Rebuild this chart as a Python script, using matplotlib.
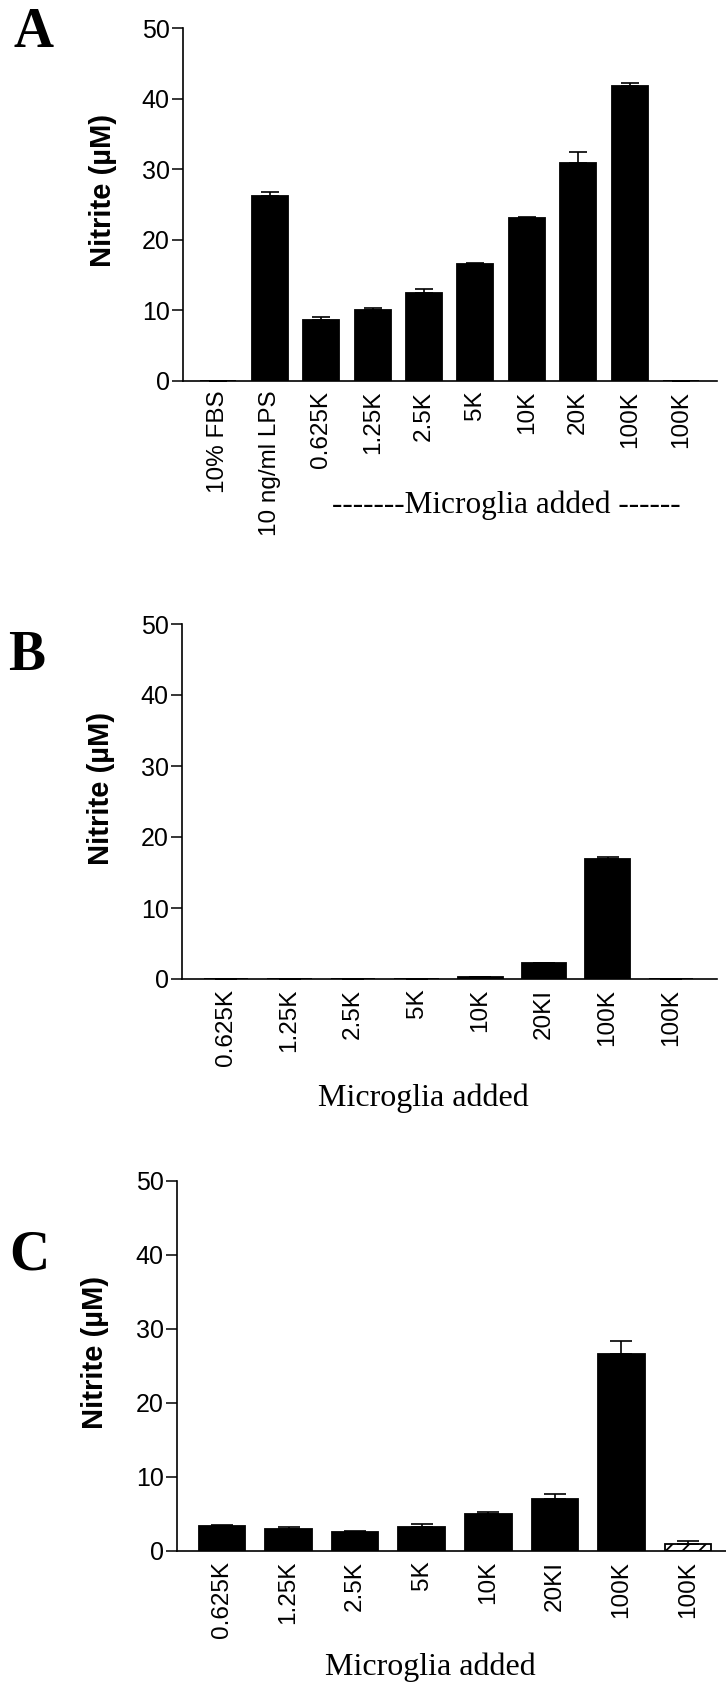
import matplotlib
matplotlib.use("Agg")
from matplotlib import pyplot as plt

# data
labels_a = ["10% FBS", "10 ng/ml LPS", "0.625K", "1.25K", "2.5K", "5K",
            "10K", "20K", "100K", "100K"]
nitrite_a = [0.0, 26.2, 8.65, 10.07, 12.48, 16.54, 23.06, 30.86, 41.73, 0.0]
sem_a = [0.0, 0.55, 0.47, 0.33, 0.56, 0.24, 0.24, 1.51, 0.43, 0.0]

labels_b = ["0.625K", "1.25K", "2.5K", "5K", "10K", "20KI", "100K", "100K"]
nitrite_b = [0.0, 0.0, 0.0, 0.0, 0.23, 2.2, 16.9, 0.0]
sem_b = [0.0, 0.0, 0.0, 0.0, 0.0, 0.1, 0.28, 0.0]

labels_c = ["0.625K", "1.25K", "2.5K", "5K", "10K", "20KI", "100K", "100K"]
nitrite_c = [3.42, 3.02, 2.61, 3.24, 4.95, 7.07, 26.58, 0.9]
sem_c = [0.08, 0.27, 0.05, 0.41, 0.32, 0.59, 1.8, 0.45]
hatched_c = [False, False, False, False, False, False, False, True]

yticks = [0, 10, 20, 30, 40, 50]

W, H = 726, 1684
sans = ["Liberation Sans", "DejaVu Sans"]
serif = ["Liberation Serif", "DejaVu Serif"]

plt.rcParams["hatch.linewidth"] = 1.3
fig = plt.figure(figsize=(W / 100, H / 100), dpi=100)


def panel(rect, labels, values, errs, xlim, capsize, hatched=None):
    left, right, top, bottom = rect
    ax = fig.add_axes([left / W, 1 - bottom / H, (right - left) / W, (bottom - top) / H])
    x = list(range(len(labels)))
    if hatched is None:
        hatched = [False] * len(labels)
    fc = ["white" if h else "black" for h in hatched]
    bars = ax.bar(x, values, width=0.7, color=fc, edgecolor="black", linewidth=1.3, zorder=2)
    for b, h in zip(bars, hatched):
        if h:
            b.set_hatch("//")
    ax.errorbar(x, values, yerr=[[0] * len(errs), errs], fmt="none", ecolor="black",
                elinewidth=1.2, capsize=capsize, capthick=1.2, zorder=3)
    ax.set_ylim(0, 50)
    ax.set_xlim(*xlim)
    ax.set_yticks(yticks)
    ax.set_xticks(x)
    ax.set_xticklabels(labels, rotation=90, family=sans, fontsize=17.5)
    for t in ax.get_yticklabels():
        t.set_family(sans)
        t.set_fontsize(18)
    ax.tick_params(axis="y", length=8, width=1.1, pad=1.5)
    ax.tick_params(axis="x", length=0, pad=7)
    for s in ("top", "right"):
        ax.spines[s].set_visible(False)
    for s in ("left", "bottom"):
        ax.spines[s].set_linewidth(1.2)
    ax.set_ylabel("Nitrite (\u00b5M)", family=sans, fontweight="bold", fontsize=21)
    return ax


ax_a = panel((183, 717, 28, 381), labels_a, nitrite_a, sem_a, (-0.69, 9.7), 6.5)
ax_a.yaxis.set_label_coords(-0.124, 0.54)
ax_b = panel((182, 717, 624, 979), labels_b, nitrite_b, sem_b, (-0.69, 7.72), 8)
ax_b.yaxis.set_label_coords(-0.125, 0.538)
ax_c = panel((177, 726, 1181, 1551), labels_c, nitrite_c, sem_c, (-0.675, 7.57), 8,
             hatched=hatched_c)
ax_c.yaxis.set_label_coords(-0.124, 0.538)

# panel letters
for letter, x, base in [("A", 13, 47), ("B", 8, 670), ("C", 9, 1270)]:
    fig.text(x / W, 1 - base / H, letter, family=serif, fontweight="bold",
             fontsize=40, ha="left", va="baseline")

# x-axis captions
fig.text(506 / W, 1 - 513 / H, "-------Microglia added ------", family=serif,
         fontsize=22.5, ha="center", va="baseline")
fig.text(423 / W, 1 - 1106 / H, "Microglia added", family=serif,
         fontsize=23, ha="center", va="baseline")
fig.text(430 / W, 1 - 1675 / H, "Microglia added", family=serif,
         fontsize=23, ha="center", va="baseline")

fig.savefig("out.png", dpi=100)
